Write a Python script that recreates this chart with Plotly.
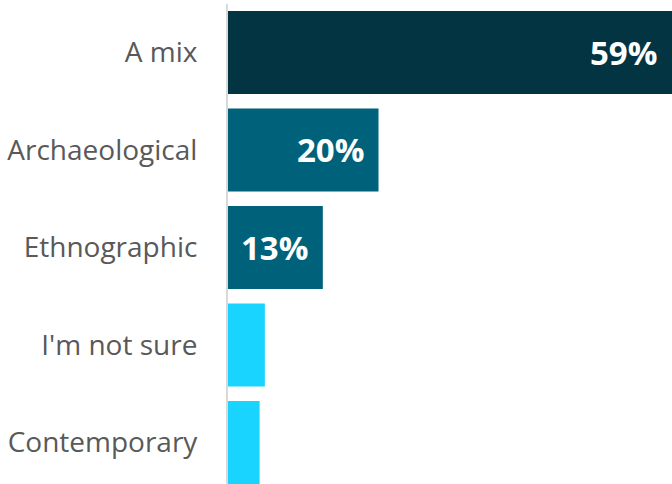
import plotly.graph_objects as go

categories = ["A mix", "Archaeological", "Ethnographic", "I'm not sure", "Contemporary"]
values = [59, 20, 12.6, 4.9, 4.2]
labels = ["59%", "20%", "13%", "", ""]
colors = ["#023442", "#00617B", "#00617B", "#19D4FF", "#19D4FF"]

fig = go.Figure()
fig.add_trace(go.Bar(
    y=categories, x=values, orientation="h",
    marker=dict(color=colors, line=dict(width=0)),
    width=0.85, hoverinfo="skip",
))
for c, v, t in zip(categories, values, labels):
    if t:
        fig.add_annotation(x=v, y=c, text=t, showarrow=False, xanchor="right",
                           xshift=-13, yshift=0,
                           font=dict(family="Open Sans", size=33, color="white", weight="bold"))

fig.update_layout(
    width=672, height=484,
    margin=dict(l=228, r=0, t=4, b=0),
    plot_bgcolor="white", paper_bgcolor="white",
    showlegend=False,
    bargap=0.15,
)
fig.update_xaxes(range=[0, 59], visible=False, showgrid=False, zeroline=False)
fig.update_yaxes(range=[4.426, -0.497], showgrid=False, zeroline=False,
                 showline=True, linecolor="#D9D9D9", linewidth=2,
                 ticks="", ticklabelstandoff=23,
                 tickfont=dict(family="Open Sans", size=28, color="#595959"))
fig.write_html("out.html")
